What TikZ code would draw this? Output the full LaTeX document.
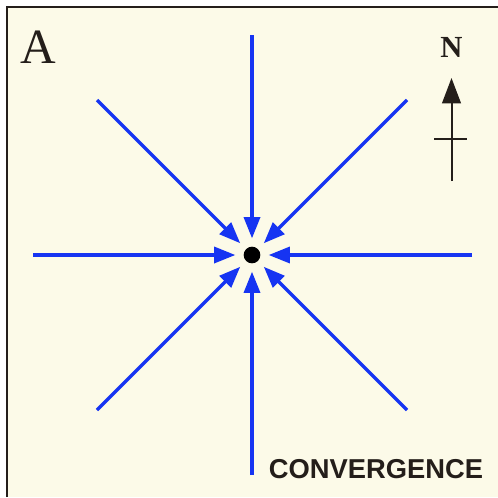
\documentclass[tikz,border=0pt]{standalone}
\usepackage{fontspec}
\setmainfont{Liberation Serif}
\newfontfamily\labelsans{Liberation Sans}
\usetikzlibrary{arrows.meta}
\definecolor{cream}{RGB}{252,250,232}
\definecolor{flowblue}{RGB}{22,52,242}
\definecolor{frameink}{RGB}{36,30,26}
\tikzset{
  flow/.style={draw=flowblue, line width=2.6pt, -{Triangle[length=16pt,width=12pt]}, shorten >=6pt},
  northline/.style={draw=frameink, line width=1.5pt},
  centerdot/.style={circle, fill=black, inner sep=0pt, minimum size=12.5pt},
}
\begin{document}
\begin{tikzpicture}[x=0.75pt,y=-0.75pt]
\useasboundingbox (0,0) rectangle (498,497);
\fill[white] (0,0) rectangle (498,497);
\fill[cream] (7,7) rectangle (498,497);
\draw[frameink, line width=1.6pt] (7,497) -- (7,7) -- (498,7);
% center
\node[centerdot] (c) at (252,255) {};
\coordinate (n) at (252,35);
\coordinate (s) at (252,475);
\coordinate (w) at (33,255);
\coordinate (e) at (472,255);
\coordinate (nw) at (97,100);
\coordinate (ne) at (407,100);
\coordinate (sw) at (97,410);
\coordinate (se) at (407,410);
\foreach \p in {n,s,w,e,nw,ne,sw,se} \draw[flow] (\p) -- (c);
% labels
\node[font=\fontsize{37}{37}\selectfont, inner sep=0pt, frameink] (lblA) at (38,47) {A};
\node[font=\labelsans\bfseries\fontsize{20.5}{20.5}\selectfont, inner sep=0pt, frameink] (lblC) at (376,469) {CONVERGENCE};
% north arrow
\node[font=\bfseries\fontsize{23}{23}\selectfont, inner sep=0pt, frameink] (lblN) at (451.5,47) {N};
\coordinate (ntip) at (451.5,78);
\coordinate (nbase) at (451.5,181);
\coordinate (cbl) at (434,139);
\coordinate (cbr) at (467,139);
\draw[northline, -{Triangle[length=19pt,width=14pt]}] (nbase) -- (ntip);
\draw[northline] (cbl) -- (cbr);
\end{tikzpicture}
\end{document}
